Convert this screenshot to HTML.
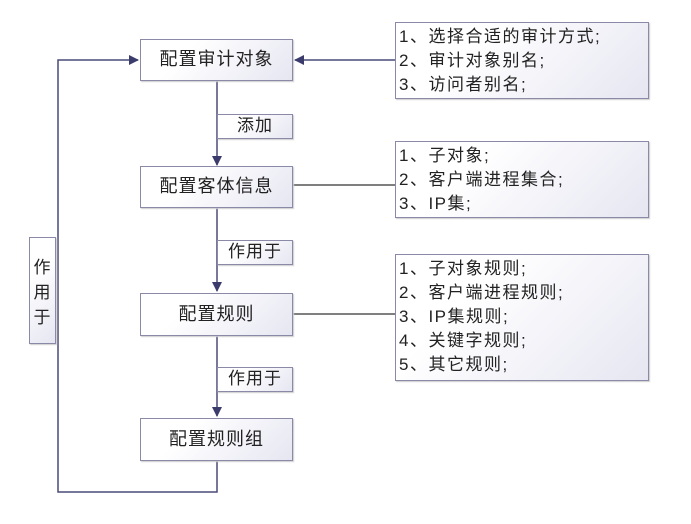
<!DOCTYPE html><html><head><meta charset="utf-8"><style>
body{margin:0;width:691px;height:524px;background:#fff;position:relative;font-family:"Liberation Sans","Noto Sans CJK SC",sans-serif;color:#222;overflow:hidden}
.b{position:absolute;border:1.5px solid #8a8aa8;background:linear-gradient(135deg,#fff 30%,#e6e6f2);box-sizing:border-box;box-shadow:1px 1px 1px #ccc}
.n{font-size:18px;text-align:center;letter-spacing:1px}
.r{font-size:17px;line-height:24px;padding-left:3px;letter-spacing:1.5px;white-space:nowrap}
</style></head><body>
<svg width="691" height="524" style="position:absolute;left:0;top:0">
<defs><marker id="a" markerWidth="10" markerHeight="10" refX="9" refY="5" orient="auto" markerUnits="userSpaceOnUse"><path d="M0,0L10,5L0,10z" fill="#3c3c6c"/></marker></defs>
<g stroke="#4a4a78" stroke-width="1.5" fill="none">
<line x1="217" y1="81" x2="217" y2="165" marker-end="url(#a)"/>
<line x1="217" y1="208" x2="217" y2="291" marker-end="url(#a)"/>
<line x1="217" y1="336" x2="217" y2="416" marker-end="url(#a)"/>
<polyline points="217,461 217,492 58,492 58,60 138,60" marker-end="url(#a)"/>
<line x1="395" y1="60" x2="295" y2="60" marker-end="url(#a)"/>
<line x1="293" y1="185" x2="395" y2="185" stroke="#555"/>
<line x1="293" y1="314" x2="395" y2="314" stroke="#555"/>
</g></svg>
<div class="b n" style="left:140px;top:39px;width:153px;height:42px;line-height:39px">配置审计对象</div>
<div class="b n" style="left:140px;top:166px;width:153px;height:42px;line-height:39px">配置客体信息</div>
<div class="b n" style="left:140px;top:293px;width:153px;height:43px;line-height:40px">配置规则</div>
<div class="b n" style="left:140px;top:418px;width:153px;height:43px;line-height:40px">配置规则组</div>
<div class="b n" style="left:217px;top:114px;width:76px;height:25px;line-height:22px;font-size:17px">添加</div>
<div class="b n" style="left:217px;top:240px;width:76px;height:25px;line-height:22px;font-size:17px">作用于</div>
<div class="b n" style="left:217px;top:367px;width:76px;height:25px;line-height:22px;font-size:17px">作用于</div>
<div class="b n" style="left:29px;top:237px;width:27px;height:107px;font-size:17px;line-height:25px;padding-top:17px">作<br>用<br>于</div>
<div class="b r" style="left:395px;top:22px;width:254px;height:77px;padding-top:2px">1、选择合适的审计方式;<br>2、审计对象别名;<br>3、访问者别名;</div>
<div class="b r" style="left:395px;top:141px;width:254px;height:77px;padding-top:2px">1、子对象;<br>2、客户端进程集合;<br>3、IP集;</div>
<div class="b r" style="left:395px;top:254px;width:254px;height:127px;padding-top:2px">1、子对象规则;<br>2、客户端进程规则;<br>3、IP集规则;<br>4、关键字规则;<br>5、其它规则;</div>
</body></html>
